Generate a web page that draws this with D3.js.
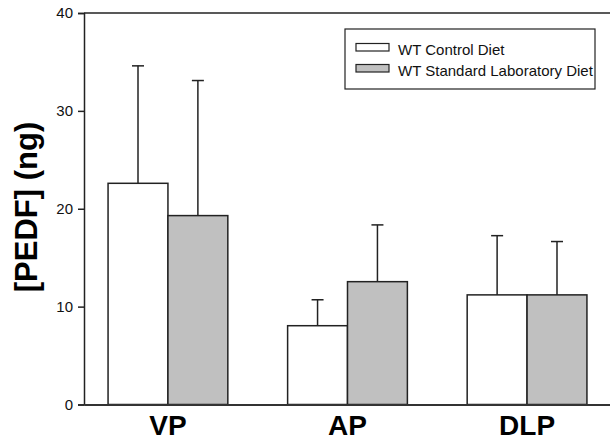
<!DOCTYPE html>
<html>
<head>
<meta charset="utf-8">
<script src="https://cdn.jsdelivr.net/npm/d3@7"></script>
<style>
  body { margin: 0; background: #fff; }
  svg { display: block; font-family: "Liberation Sans", Arial, sans-serif; }
</style>
</head>
<body>
<svg id="chart" width="610" height="441"></svg>
<script>
// data
const regions = ["VP", "AP", "DLP"];
const seriesNames = ["WT Control Diet", "WT Standard Laboratory Diet"];
const controlMeans = [22.6, 8.05, 11.2];
const controlErrors = [12.0, 2.65, 6.05];
const standardMeans = [19.3, 12.55, 11.2];
const standardErrors = [13.8, 5.8, 5.45];
const yTicks = [0, 10, 20, 30, 40];

const fills = ["#ffffff", "#c0c0c0"];
const ink = "#222";

const svg = d3.select("#chart");
const plotLeft = 84, plotRight = 611, plotTop = 13, plotBottom = 404.5;

const x = d3.scaleBand().domain(regions).range([plotLeft, plotRight])
    .paddingInner(0.333).paddingOuter(0.134);
const xs = d3.scaleBand().domain([0, 1]).range([0, x.bandwidth()]);
const y = d3.scaleLinear().domain([0, 40]).range([plotBottom, plotTop]);

let rows = [];
regions.forEach((r, i) => {
    rows.push({ region: r, s: 0, mean: controlMeans[i], err: controlErrors[i] });
    rows.push({ region: r, s: 1, mean: standardMeans[i], err: standardErrors[i] });
});

// error bars (upper only)
let eb = svg.append("g").attr("stroke", ink).attr("stroke-width", 1.5);
rows.forEach(d => {
    let cx = x(d.region) + xs(d.s) + xs.bandwidth() / 2;
    eb.append("line").attr("x1", cx).attr("x2", cx)
        .attr("y1", y(d.mean)).attr("y2", y(d.mean + d.err));
    eb.append("line").attr("x1", cx - 6).attr("x2", cx + 6)
        .attr("y1", y(d.mean + d.err)).attr("y2", y(d.mean + d.err));
});

// bars
svg.append("g").selectAll("rect").data(rows).join("rect")
    .attr("x", d => x(d.region) + xs(d.s))
    .attr("y", d => y(d.mean))
    .attr("width", xs.bandwidth())
    .attr("height", d => y(0) - y(d.mean))
    .attr("fill", d => fills[d.s])
    .attr("stroke", ink)
    .attr("stroke-width", 1.5);

// y axis
let ya = svg.append("g").attr("transform", `translate(${plotLeft},0)`)
    .call(d3.axisLeft(y).tickValues(yTicks).tickSize(6).tickPadding(5));
ya.select(".domain").attr("stroke", ink).attr("stroke-width", 1.5);
ya.selectAll(".tick line").attr("stroke", ink).attr("stroke-width", 1.5);
ya.selectAll(".tick text").attr("font-size", 15).attr("fill", "#111")
    .attr("font-family", "Liberation Sans, Arial, sans-serif");

// top frame line and x baseline
svg.append("line").attr("x1", plotLeft).attr("x2", 610)
    .attr("y1", y(40)).attr("y2", y(40))
    .attr("stroke", ink).attr("stroke-width", 1.5);

let xa = svg.append("g").attr("transform", `translate(0,${plotBottom})`)
    .call(d3.axisBottom(x).tickSize(0).tickPadding(11));
xa.select(".domain").attr("stroke", "#333").attr("stroke-width", 2);
xa.selectAll(".tick text").attr("font-size", 28).attr("font-weight", "bold")
    .attr("fill", "#000").attr("font-family", "Liberation Sans, Arial, sans-serif");

// y title
svg.append("text")
    .attr("transform", "translate(37,207) rotate(-90)")
    .attr("text-anchor", "middle")
    .attr("font-size", 31).attr("font-weight", "bold")
    .text("[PEDF] (ng)");

// legend
let lg = svg.append("g");
lg.append("rect").attr("x", 345).attr("y", 29).attr("width", 250).attr("height", 60)
    .attr("fill", "#fff").attr("stroke", ink).attr("stroke-width", 1.2);
seriesNames.forEach((name, i) => {
    let yy = 47 + i * 21;
    lg.append("rect").attr("x", 356).attr("y", yy - 3.5).attr("width", 33).attr("height", 7.5)
        .attr("fill", fills[i]).attr("stroke", ink).attr("stroke-width", 1.2);
    lg.append("text").attr("x", 398).attr("y", yy + 7.5).attr("font-size", 15)
        .attr("fill", "#111").text(name);
});
</script>
</body>
</html>
